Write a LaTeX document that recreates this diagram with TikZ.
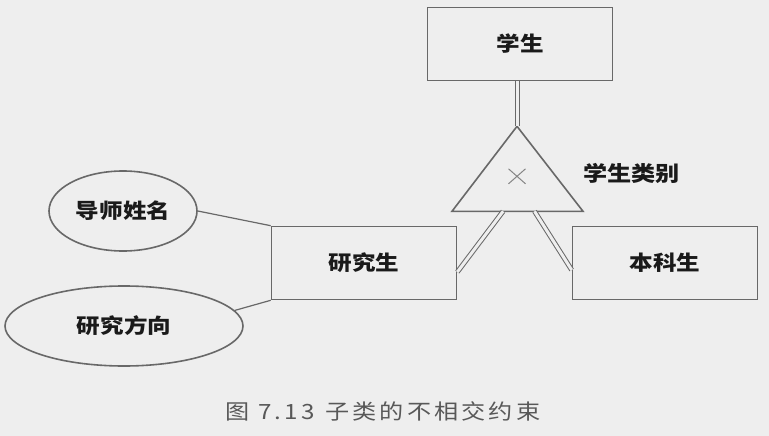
\documentclass[tikz,border=0pt]{standalone}
\usepackage{fontspec}
\usetikzlibrary{positioning,calc,shapes.geometric,shapes.misc}
\newfontfamily\cjk{Noto Sans CJK SC}[FakeStretch=1.15]
\newfontfamily\capfont{Noto Sans CJK SC}[FakeStretch=1.15,LetterSpace=15]
\definecolor{paper}{HTML}{EEEEEE}
\definecolor{edge}{HTML}{686868}
\definecolor{ink}{HTML}{1A1A1A}

\begin{document}
\begin{tikzpicture}[x=1pt,y=-1pt,
  lbl/.style={text=ink,font=\cjk\bfseries\fontsize{20.5}{24}\selectfont},
  ent/.style={lbl,draw=edge,line width=1.6pt,minimum width=185pt,minimum height=73pt},
  attr/.style={lbl,ellipse,draw=edge,line width=1.6pt,inner sep=0pt,minimum height=80pt},
  link/.style={draw=edge,line width=1.2pt},
  isa/.style={draw=edge,line width=1pt,double=paper,double distance=3pt}]
 \fill[paper] (0,0) rectangle (769,436);
 \useasboundingbox (0,0) rectangle (769,436);
 % entities
 \node[ent] (xs) at (520,44) {学生};
 \node[ent] (ys) at (364,263) {研究生};
 \node[ent] (bk) at (665,263) {本科生};
 % attributes of 研究生
 \node[attr,minimum width=148pt] (ds) at (123,211) {导师姓名};
 \node[attr,minimum width=238pt] (fx) at (124,326) {研究方向};
 \draw[link] (ds.east)--(ys.north west);
 \draw[link] (fx.8)--(ys.south west);
 % disjoint specialisation
 \coordinate (tp) at ($(xs.south)+(-3,45)$);
 \coordinate (tl) at ($(tp)+(-65,85)$);
 \coordinate (tr) at ($(tp)+(66,85)$);
 \draw[edge,line width=1.6pt,line join=miter] (tp)--(tl)--(tr)--cycle;
 \node[cross out,draw=edge!80,line width=1pt,minimum width=16pt,minimum height=14pt,inner sep=0pt] (dj) at ($(tp)+(0,50)$) {};
 \node[lbl,anchor=west,font=\cjk\bfseries\fontsize{21}{25}\selectfont] (lb) at (580,173) {学生类别};
 \coordinate (bl) at ($(tl)!0.39!(tr)$);
 \coordinate (br) at ($(tl)!0.63!(tr)$);
 \draw[isa] (xs.south-|tp)--(tp);
 \draw[isa] (bl)--([yshift=-9pt]ys.east);
 \draw[isa] (br)--([yshift=-7pt]bk.west);
 % caption
 \node[text=edge!85!black,font=\capfont\fontsize{21}{25}\selectfont] (cap) at (383,411) {图 7.13\enspace 子类的不相交约束};
\end{tikzpicture}
\end{document}
